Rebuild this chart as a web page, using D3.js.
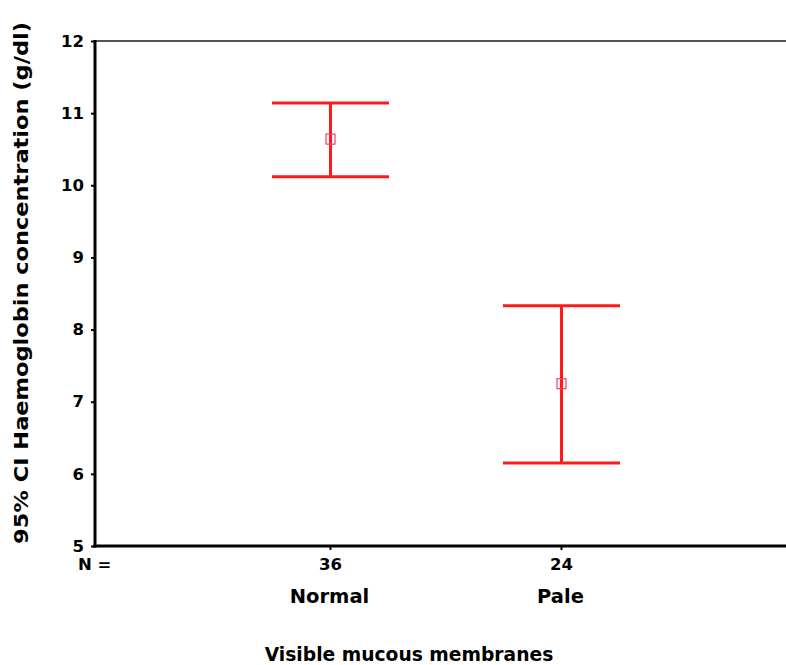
<!DOCTYPE html>
<html>
<head>
<meta charset="utf-8">
<script src="https://cdn.jsdelivr.net/npm/d3@7"></script>
<style>
  html, body { margin: 0; padding: 0; background: #ffffff; }
  svg { display: block; font-family: "DejaVu Sans", "Liberation Sans", Arial, sans-serif; font-weight: bold; }
</style>
</head>
<body>
<svg id="chart" width="786" height="665"></svg>
<script>
// Groups and their sample sizes
const groups = ["Normal", "Pale"];
const groupN = [36, 24];
// 95% confidence interval of haemoglobin (g/dl) per group
const means = [10.64, 7.25];
const lower = [10.12, 6.15];
const upper = [11.14, 8.33];
// Y axis ticks
const yTicks = [5, 6, 7, 8, 9, 10, 11, 12];

const svg = d3.select("#chart");
const plotLeft = 95, plotRight = 800, plotTop = 41, plotBottom = 546;

const x = d3.scalePoint().domain(groups).range([99.5, 792.5]).padding(1);
const y = d3.scaleLinear().domain([5, 12]).range([plotBottom, plotTop]);

// Frame: light top border, heavy left and bottom axes
svg.append("line")
  .attr("x1", plotLeft).attr("x2", plotRight).attr("y1", plotTop).attr("y2", plotTop)
  .attr("stroke", "#555").attr("stroke-width", 2);

const yAxis = svg.append("g")
  .attr("transform", `translate(${plotLeft},0)`)
  .call(d3.axisLeft(y).tickValues(yTicks).tickSize(4).tickPadding(7).tickFormat(d3.format("d")));
yAxis.attr("font-size", null).attr("font-family", null);
yAxis.select(".domain").remove();
yAxis.selectAll(".tick line").attr("stroke", "#000").attr("stroke-width", 2);
yAxis.selectAll(".tick text")
  .attr("fill", "#000").style("font-size", "16.5px").style("font-weight", "bold");

svg.append("line")
  .attr("x1", plotLeft).attr("x2", plotLeft).attr("y1", plotTop - 1).attr("y2", plotBottom + 1.5)
  .attr("stroke", "#000").attr("stroke-width", 3);
svg.append("line")
  .attr("x1", plotLeft - 1.5).attr("x2", plotRight).attr("y1", plotBottom).attr("y2", plotBottom)
  .attr("stroke", "#000").attr("stroke-width", 3);

// Category ticks on the bottom axis
svg.selectAll(".xtick").data(groups).enter().append("line")
  .attr("x1", d => x(d)).attr("x2", d => x(d))
  .attr("y1", plotBottom).attr("y2", plotBottom + 4)
  .attr("stroke", "#000").attr("stroke-width", 2);

// N = row
svg.append("text").attr("x", 78).attr("y", 570)
  .style("font-size", "16.5px").text("N =");
svg.selectAll(".nlab").data(groups).enter().append("text")
  .attr("x", d => x(d)).attr("y", 570).attr("text-anchor", "middle")
  .style("font-size", "16.5px").text((d, i) => groupN[i]);

// Category names
svg.selectAll(".glab").data(groups).enter().append("text")
  .attr("x", d => x(d) - 1).attr("y", 603).attr("text-anchor", "middle")
  .style("font-size", "19.5px").text(d => d);

// Axis titles
svg.append("text")
  .attr("x", 409).attr("y", 661).attr("text-anchor", "middle")
  .style("font-size", "18.7px").text("Visible mucous membranes");

svg.append("text")
  .attr("transform", "translate(28,283) rotate(-90)")
  .attr("text-anchor", "middle")
  .attr("textLength", 522).attr("lengthAdjust", "spacingAndGlyphs")
  .style("font-size", "20px").text("95% CI Haemoglobin concentration (g/dl)");

// Error bars
const capHalf = 58.5;
const red = "#ff1a1a";
const bars = svg.selectAll(".eb").data(groups).enter().append("g");
bars.append("line")
  .attr("x1", d => x(d)).attr("x2", d => x(d))
  .attr("y1", (d, i) => y(upper[i])).attr("y2", (d, i) => y(lower[i]))
  .attr("stroke", red).attr("stroke-width", 3);
bars.append("line")
  .attr("x1", d => x(d) - capHalf).attr("x2", d => x(d) + capHalf)
  .attr("y1", (d, i) => y(upper[i])).attr("y2", (d, i) => y(upper[i]))
  .attr("stroke", red).attr("stroke-width", 3);
bars.append("line")
  .attr("x1", d => x(d) - capHalf).attr("x2", d => x(d) + capHalf)
  .attr("y1", (d, i) => y(lower[i])).attr("y2", (d, i) => y(lower[i]))
  .attr("stroke", red).attr("stroke-width", 3);
// Mean markers: open squares
bars.append("rect")
  .attr("x", d => x(d) - 4.5).attr("y", (d, i) => y(means[i]) - 5)
  .attr("width", 9).attr("height", 10)
  .attr("fill", "none").attr("stroke", "#f0406a").attr("stroke-width", 1.2);
</script>
</body>
</html>
